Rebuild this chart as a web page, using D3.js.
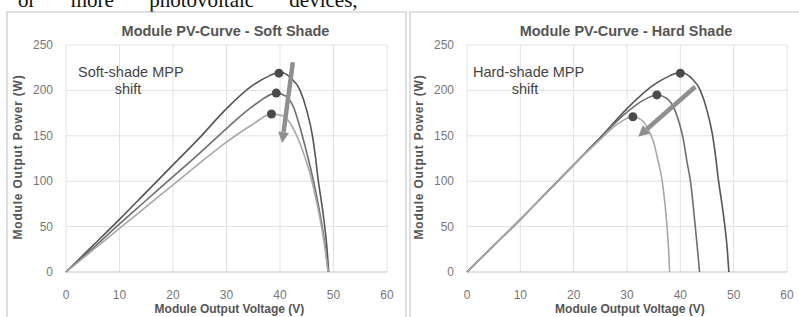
<!DOCTYPE html>
<meta charset="utf-8">
<style>
  body { margin: 0; background: #fff; }
  svg { display: block; }
</style>
<div id="container"></div>
<script src="https://cdn.jsdelivr.net/npm/d3@7"></script>
<script>

// values: [voltage (V), power (W)]
const xTicks = [0, 10, 20, 30, 40, 50, 60];
const yTicks = [0, 50, 100, 150, 200, 250];

const fullSun = [[0,0],[5,29],[10,58],[15,88],[20,118],[25,148],[30,180],[35,206],[38,216],[40,220],[42,214],[43.75,200],[45,178],[46,152],[46.6,128],[47.1,103],[47.8,75],[48.4,48],[48.8,25],[49.1,0]];

const softMid = [[0,0],[5,26],[10,53],[15,79],[20,105],[25,131],[30,158],[35,183],[39.3,197],[41,194],[42.5,182],[43.7,160],[44.8,136],[45.8,112],[46.7,88],[47.6,60],[48.4,30],[49,0]];
const softLow = [[0,0],[5,24],[10,48],[15,72],[20,96],[25,120],[30,143],[35,163],[38.4,174],[40.5,172],[42,163],[43.5,145],[44.8,124],[45.8,104],[46.7,81],[47.6,55],[48.4,27],[49,0]];

const hardMid = [[0,0],[5,29],[10,58],[15,88],[20,118],[25,148],[30,176],[33,189],[35.6,195],[37.5,191],[39,178],[40,160],[40.6,145],[41.2,123],[41.9,100],[42.8,50],[43.3,20],[43.6,0]];
const hardLow = [[0,0],[5,29],[10,58],[15,88],[20,118],[25,146],[28,162],[31.1,171],[33,166],[34.3,153],[35,143],[35.8,123],[36.6,100],[37.5,50],[37.8,25],[38,0]];

const softMpp = [[39.8,219],[39.3,197],[38.4,174]];
const hardMpp = [[40,219],[35.6,195],[31.1,171]];

// arrow start and tip
const softArrow = [[42.4,231],[40.4,142]];
const hardArrow = [[42.8,204],[32.1,149]];

const panels = [
  { left: 66, right: 387, frame: [7, 406], title: "Module PV-Curve - Soft Shade",
    note: ["Soft-shade MPP", "shift"], noteX: [78, 128],
    curves: [fullSun, softMid, softLow], mpp: softMpp, arrow: softArrow },
  { left: 467, right: 787, frame: [410, 805], title: "Module PV-Curve - Hard Shade",
    note: ["Hard-shade MPP", "shift"], noteX: [473, 525],
    curves: [fullSun, hardMid, hardLow], mpp: hardMpp, arrow: hardArrow }
];

const curveColors = ["#555", "#6e6e6e", "#a8a8a8"];

const width = 799, height = 317;

const svg = d3.create("svg")
    .attr("width", width)
    .attr("height", height)
    .style("font-family", "Arial, 'Liberation Sans', sans-serif");

// cut-off line of the surrounding document text
svg.append("text")
    .attr("x", 18).attr("y", 7)
    .attr("font-family", "'Liberation Serif', 'DejaVu Serif', serif")
    .attr("font-size", 21)
    .attr("word-spacing", 30)
    .attr("fill", "#111")
    .text("or more photovoltaic devices,");

const y = d3.scaleLinear().domain([0, 250]).range([272, 45]);

panels.forEach(p => {
  const x = d3.scaleLinear().domain([0, 60]).range([p.left, p.right]);
  const g = svg.append("g");

  // panel frame
  g.append("path")
      .attr("d", `M${p.frame[0]},${height + 2}V12H${p.frame[1]}` + (p.frame[1] < width ? `V${height + 2}` : ""))
      .attr("fill", "none")
      .attr("stroke", "#c8c8c8")
      .attr("stroke-width", 1.2);

  // grid
  g.selectAll(".vg").data(xTicks).join("line")
      .attr("x1", d => x(d)).attr("x2", d => x(d))
      .attr("y1", y(0)).attr("y2", y(250))
      .attr("stroke", "#e2e2e2");
  g.selectAll(".hg").data(yTicks).join("line")
      .attr("x1", x(0)).attr("x2", x(60))
      .attr("y1", d => y(d)).attr("y2", d => y(d))
      .attr("stroke", d => d === 0 ? "#c4c4c4" : "#e2e2e2");

  // tick labels
  g.selectAll(".xt").data(xTicks).join("text")
      .attr("x", d => x(d)).attr("y", 299)
      .attr("text-anchor", "middle")
      .attr("font-size", 12).attr("fill", "#777")
      .text(d => d);
  g.selectAll(".yt").data(yTicks).join("text")
      .attr("x", x(0) - 13).attr("y", d => y(d) + 4)
      .attr("text-anchor", "end")
      .attr("font-size", 12).attr("fill", "#777")
      .text(d => d);

  // titles
  g.append("text")
      .attr("x", (p.left + p.right) / 2 - 1).attr("y", 36)
      .attr("text-anchor", "middle")
      .attr("font-size", 14.5).attr("font-weight", "bold").attr("fill", "#555")
      .text(p.title);
  g.append("text")
      .attr("x", (p.left + p.right) / 2 + 3).attr("y", 313)
      .attr("text-anchor", "middle")
      .attr("font-size", 12).attr("font-weight", "bold").attr("fill", "#555")
      .text("Module Output Voltage (V)");
  g.append("text")
      .attr("transform", `translate(${p.left - 44},157) rotate(-90)`)
      .attr("text-anchor", "middle")
      .attr("font-size", 12).attr("font-weight", "bold").attr("fill", "#555")
      .attr("letter-spacing", 0.8)
      .text("Module Output Power (W)");

  // curves
  const line = d3.line()
      .x(d => x(d[0])).y(d => y(d[1]))
      .curve(d3.curveMonotoneX);
  g.selectAll(".curve").data(p.curves).join("path")
      .attr("d", line)
      .attr("fill", "none")
      .attr("stroke", (d, i) => curveColors[i])
      .attr("stroke-width", 1.6);

  // MPP dots
  g.selectAll(".mpp").data(p.mpp).join("circle")
      .attr("cx", d => x(d[0])).attr("cy", d => y(d[1]))
      .attr("r", 4.5)
      .attr("fill", "#4a4a4a");

  // shift arrow
  const [a, b] = p.arrow.map(d => [x(d[0]), y(d[1])]);
  const ang = Math.atan2(b[1] - a[1], b[0] - a[0]);
  const headLen = 11, headW = 5.5;
  const base = [b[0] - headLen * Math.cos(ang), b[1] - headLen * Math.sin(ang)];
  g.append("line")
      .attr("x1", a[0]).attr("y1", a[1])
      .attr("x2", base[0]).attr("y2", base[1])
      .attr("stroke", "#8f8f8f")
      .attr("stroke-width", 4.5);
  g.append("path")
      .attr("d", d3.line()([
        b,
        [base[0] + headW * Math.sin(ang), base[1] - headW * Math.cos(ang)],
        [base[0] - headW * Math.sin(ang), base[1] + headW * Math.cos(ang)]
      ]) + "Z")
      .attr("fill", "#8f8f8f");

  // annotation
  g.append("text")
      .attr("x", p.noteX[0]).attr("y", 77)
      .attr("font-size", 14.5).attr("fill", "#444")
      .text(p.note[0]);
  g.append("text")
      .attr("x", p.noteX[1]).attr("y", 94)
      .attr("text-anchor", "middle")
      .attr("font-size", 14.5).attr("fill", "#444")
      .text(p.note[1]);
});

container.append(svg.node());

</script>
